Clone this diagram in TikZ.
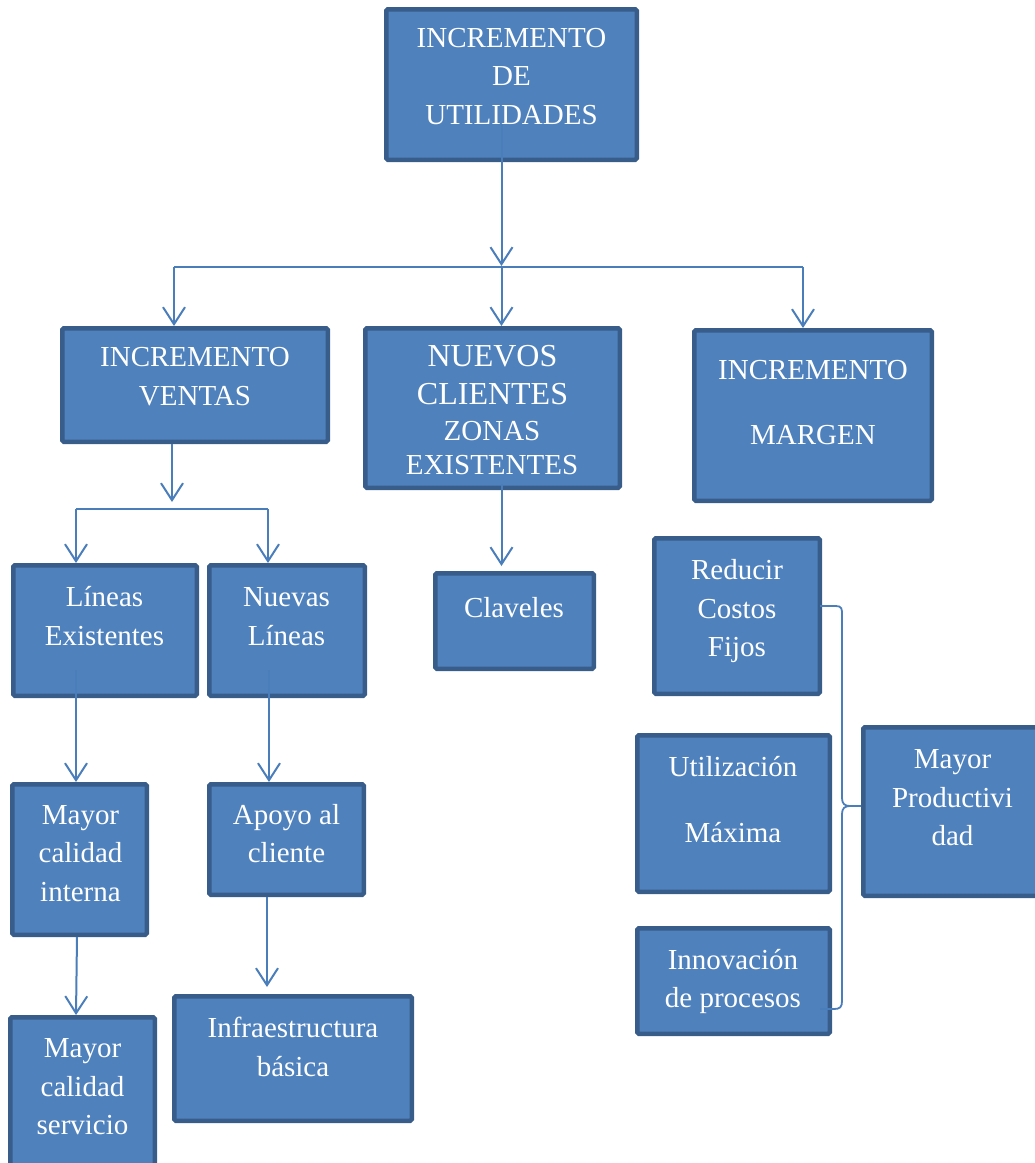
\documentclass[tikz,border=0pt]{standalone}
\usepackage{fontspec}
\setmainfont{Liberation Serif}
\usetikzlibrary{arrows.meta}
\definecolor{bfill}{HTML}{4F81BD}
\definecolor{bdraw}{HTML}{385D8A}
\definecolor{lcol}{HTML}{4A7EBB}
\tikzset{
  bx/.style={draw=bdraw, fill=bfill, line width=4.5pt, rounded corners=1.5pt, inner sep=0pt, outer sep=2.25pt},
  txt/.style={text=white, align=center, inner sep=0pt, font=\fontsize{29}{38.5}\selectfont},
  conn/.style={draw=lcol, line width=2pt},
  arr/.style={conn, -{Straight Barb[length=17pt,width=22pt]}},
}
\newcommand\mkbox[5]{\node[bx, minimum width={#4-#2-4.5pt}, minimum height={#5-#3-4.5pt}] (#1) at ({(#2+#4)/2},{(#3+#5)/2}) {};}
\begin{document}
\begin{tikzpicture}[x=1pt,y=-1pt]
\useasboundingbox (0,0) rectangle (1035,1163);
% boxes
\mkbox{b1}{384}{7}{639}{162}
\mkbox{b2}{60}{326}{330}{444}
\mkbox{b3}{363}{326}{622}{490}
\mkbox{b4}{692}{328}{934}{503}
\mkbox{b5}{11}{563}{199}{698}
\mkbox{b6}{207}{563}{367}{698}
\mkbox{b7}{433}{571}{596}{671}
\mkbox{b8}{652}{536}{822}{696}
\mkbox{b9}{635}{733}{832}{894}
\mkbox{b10}{861}{725}{1045}{898}
\mkbox{b11}{635}{926}{832}{1036}
\mkbox{b12}{10}{782}{149}{937}
\mkbox{b13}{207}{782}{366}{897}
\mkbox{b14}{172}{994}{414}{1123}
\mkbox{b15}{8}{1015}{157}{1180}
% connectors
\coordinate (s1) at (501.5,123);
\coordinate (j1) at (501.5,266);
\coordinate (hl) at (174,267);
\coordinate (hr) at (803,267);
\draw[arr] (s1) -- (j1);
\draw[conn] (hl) -- (hr);
\draw[arr] (hl) -- (hl |- b2.north);
\draw[arr] (j1) -- (j1 |- b3.north);
\draw[arr] (hr) -- (hr |- b4.north);
\coordinate (s2) at (172,444);
\coordinate (j2) at (172,502);
\coordinate (h2l) at (76,509);
\coordinate (h2r) at (268,509);
\draw[arr] (s2) -- (j2);
\draw[conn] (h2l) -- (h2r);
\draw[arr] (h2l) -- (h2l |- b5.north);
\draw[arr] (h2r) -- (h2r |- b6.north);
\coordinate (s3) at (501.5,484);
\coordinate (e3) at (501.5,566);
\draw[arr] (s3) -- (e3);
\coordinate (s5) at (76,670);
\draw[arr] (s5) -- (s5 |- b12.north);
\coordinate (s6) at (269,670);
\draw[arr] (s6) -- (s6 |- b13.north);
\coordinate (s12) at (77,937);
\coordinate (e12) at (76,1015);
\draw[arr] (s12) -- (e12);
\coordinate (s13) at (267,897);
\coordinate (e13) at (267,987);
\draw[arr] (s13) -- (e13);
% brace
\coordinate (bs) at (820,606);
\coordinate (be) at (820,1009);
\coordinate (bt) at (861,806);
\draw[draw=lcol, line width=1.8pt] (bs) -- (836,606) .. controls (842,606) and (842,609) .. (842,615) -- (842,798) .. controls (842,804) and (845,806) .. (850,806) -- (bt);
\draw[draw=lcol, line width=1.8pt] (850,806) .. controls (845,806) and (842,808) .. (842,814) -- (842,1001) .. controls (842,1007) and (840,1009) .. (834,1009) -- (be);
% texts
\node[txt] (t1) at (511.5,77.8) {\strut INCREMENTO\\\strut DE\\\strut UTILIDADES};
\node[txt] (t2) at (195,378.3) {\strut INCREMENTO\\\strut VENTAS};
\node[txt, font=\fontsize{32}{38}\selectfont] (t3a) at (492.5,378.3) {\strut NUEVOS\\\strut CLIENTES};
\node[txt, font=\fontsize{29}{34}\selectfont] (t3b) at (492,450.2) {\strut ZONAS\\\strut EXISTENTES};
\node[txt] (t4) at (813,403.8) {\strut INCREMENTO\\[26.5pt]\strut MARGEN};
\node[txt] (t5) at (104.5,618.3) {\strut Líneas\\\strut Existentes};
\node[txt] (t6) at (286.5,618.3) {\strut Nuevas\\\strut Líneas};
\node[txt] (t7) at (514,609.3) {\strut Claveles};
\node[txt] (t8) at (737,610.3) {\strut Reducir\\\strut Costos\\\strut Fijos};
\node[txt] (t9) at (733,801.3) {\strut Utilización\\[27.5pt]\strut Máxima};
\node[txt] (t10) at (952.5,799.3) {\strut Mayor\\\strut Productivi\\\strut dad};
\node[txt] (t11) at (733,980.8) {\strut Innovación\\\strut de procesos};
\node[txt] (t12) at (80.5,855) {\strut Mayor\\\strut calidad\\\strut interna};
\node[txt] (t13) at (286.5,835.8) {\strut Apoyo al\\\strut cliente};
\node[txt] (t14) at (293,1049.3) {\strut Infraestructura\\\strut básica};
\node[txt] (t15) at (82.5,1088.6) {\strut Mayor\\\strut calidad\\\strut servicio};
\end{tikzpicture}
\end{document}
